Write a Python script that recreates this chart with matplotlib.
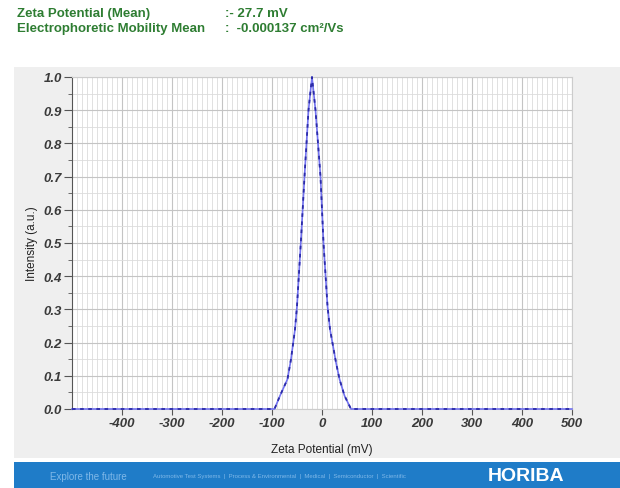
import numpy as np
import matplotlib.pyplot as plt
from matplotlib.patches import Rectangle
from matplotlib.ticker import MultipleLocator

plt.rcParams['font.family'] = ['Liberation Sans', 'DejaVu Sans']

# zeta potential distribution
zeta = [-500, -95, -84, -69, -62, -54, -50, -42, -35, -27, -20,
        -13, -3, 3, 11, 16, 28, 35, 45, 58, 500]
intensity = [0, 0, 0.04, 0.09, 0.15, 0.24, 0.31, 0.51, 0.70, 0.90, 1.0,
             0.90, 0.70, 0.50, 0.31, 0.24, 0.14, 0.09, 0.04, 0, 0]

xticks = [-400, -300, -200, -100, 0, 100, 200, 300, 400, 500]
yticks = [0.0, 0.1, 0.2, 0.3, 0.4, 0.5, 0.6, 0.7, 0.8, 0.9, 1.0]

header_names = ["Zeta Potential (Mean)", "Electrophoretic Mobility Mean"]
header_vals = [":- 27.7 mV", ":  -0.000137 cm\u00b2/Vs"]

fig = plt.figure(figsize=(6.2, 4.89), dpi=100)
fig.patch.set_facecolor("white")

# grey panel behind the plot + blue footer
fig.patches.append(Rectangle((14/620, 30/489), 606/620, 391/489, transform=fig.transFigure,
                             facecolor="#efefef", edgecolor="none", zorder=-10))
fig.patches.append(Rectangle((14/620, 0), 606/620, 26/489, transform=fig.transFigure,
                             facecolor="#1f7cc8", edgecolor="none", zorder=-10))

ax = fig.add_axes([72/620, 79/489, 500/620, 332/489])
ax.set_zorder(5)
ax.set_facecolor("white")
# light solid line with darker dashes on top, like the instrument export
ax.plot(zeta, intensity, color="#7272f0", lw=1.2, zorder=3, clip_on=False)
ax.plot(zeta, intensity, color="#2c2ca8", lw=1.3, ls=(0, (2, 2.5)), zorder=4, clip_on=False)

ax.set_xlim(-500, 500)
ax.set_ylim(0, 1.0)
ax.set_xticks(xticks)
ax.set_xticklabels([str(v) for v in xticks])
ax.set_yticks(yticks)
ax.set_yticklabels(["%.1f" % v for v in yticks])
ax.xaxis.set_minor_locator(MultipleLocator(10))
ax.yaxis.set_minor_locator(MultipleLocator(0.05))
ax.grid(which="major", color="#c4c4c4", lw=0.8)
ax.grid(which="minor", color="#dcdcdc", lw=0.6)

for lab in ax.get_xticklabels() + ax.get_yticklabels():
    lab.set_fontweight("bold")
    lab.set_fontstyle("italic")
    lab.set_color("#3a3a3a")
    lab.set_fontsize(9.5)

ax.tick_params(axis="y", which="major", length=6, color="#555555", pad=1)
ax.tick_params(axis="y", which="minor", length=3, color="#555555")
ax.tick_params(axis="x", which="major", length=4, color="#555555", pad=2)
ax.tick_params(axis="x", which="minor", length=0)
for s in ["top", "right"]:
    ax.spines[s].set_color("#cccccc")
ax.spines["left"].set_color("#555555")
ax.spines["bottom"].set_color("#cccccc")

ax.set_xlabel("Zeta Potential (mV)", fontsize=8.5, color="#222222", labelpad=10)
ax.set_ylabel("Intensity (a.u.)", fontsize=8.5, color="#222222", labelpad=4)

# header text
for i in range(2):
    y = 1 - (14 + i * 15) / 489
    fig.text(17/620, y, header_names[i], color="#2e7d32", fontsize=9.5, fontweight="bold", va="center")
    fig.text(225/620, y, header_vals[i], color="#2e7d32", fontsize=9.5, fontweight="bold", va="center")

# footer text
fig.text(50/620, 12/489, "Explore the future", color="#7fb8e8", fontsize=7, va="center")
fig.text(153/620, 12/489, "Automotive Test Systems  |  Process & Environmental  |  Medical  |  Semiconductor  |  Scientific",
         color="#7fb8e8", fontsize=4.3, va="center")
fig.text(488/620, 12/489, "HORIBA", color="white", fontsize=14, fontweight="bold", va="center")

fig.savefig("out.png", dpi=100)
